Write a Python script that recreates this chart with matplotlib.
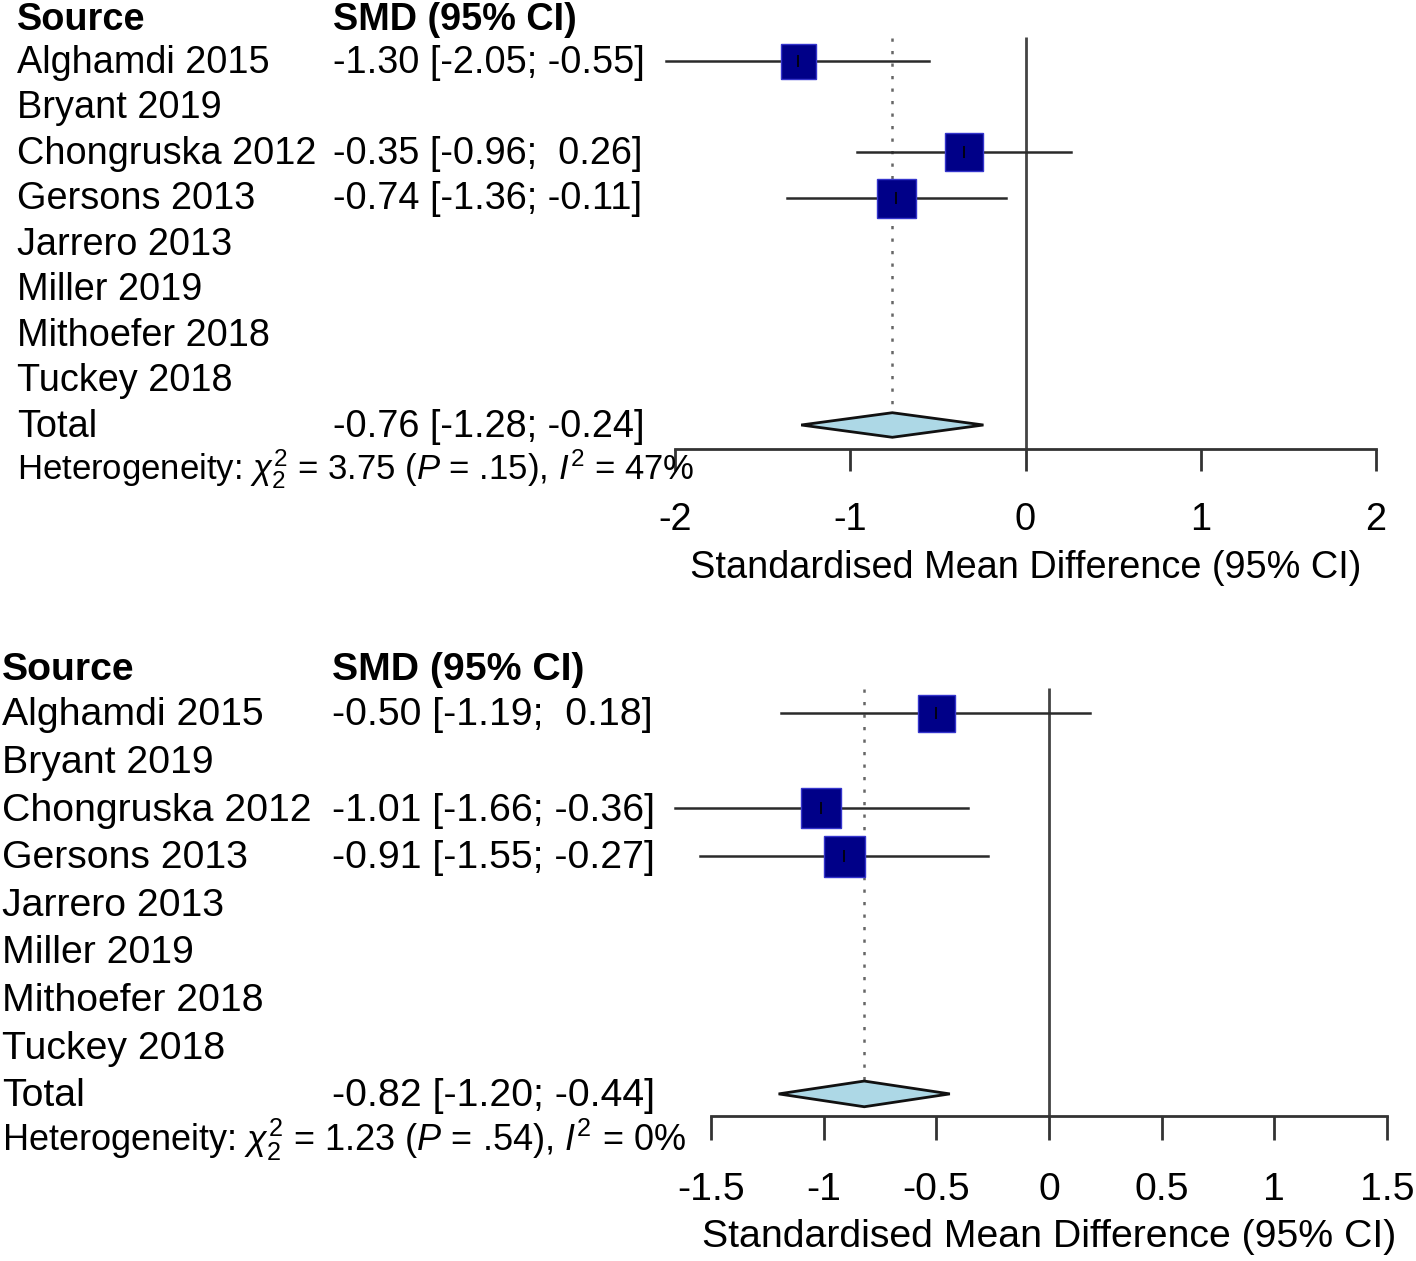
import numpy as np
import matplotlib.pyplot as plt
from matplotlib.patches import Polygon
from matplotlib.transforms import blended_transform_factory

plt.rcParams['font.family'] = 'Liberation Sans'
plt.rcParams['mathtext.fontset'] = 'custom'
plt.rcParams['mathtext.rm'] = 'Liberation Sans'
plt.rcParams['mathtext.it'] = 'Liberation Sans:italic'
plt.rcParams['axes.unicode_minus'] = False

# --- data ---
studies = ['Alghamdi 2015', 'Bryant 2019', 'Chongruska 2012', 'Gersons 2013',
           'Jarrero 2013', 'Miller 2019', 'Mithoefer 2018', 'Tuckey 2018']

# panel A
smd_a = [-1.30, None, -0.35, -0.74, None, None, None, None]
lo_a = [-2.05, None, -0.96, -1.36, None, None, None, None]
hi_a = [-0.55, None, 0.26, -0.11, None, None, None, None]
box_a = [35, None, 38, 39, None, None, None, None]   # square side, px
total_a = [-0.76, -1.28, -0.24]
het_a = r'Heterogeneity: $\chi^2_2$ = 3.75 ($P$ = .15), $I^2$ = 47%'
ticks_a = [-2, -1, 0, 1, 2]
ticklabels_a = ['-2', '-1', '0', '1', '2']

# panel B
smd_b = [-0.50, None, -1.01, -0.91, None, None, None, None]
lo_b = [-1.19, None, -1.66, -1.55, None, None, None, None]
hi_b = [0.18, None, -0.36, -0.27, None, None, None, None]
box_b = [37, None, 40, 41, None, None, None, None]
total_b = [-0.82, -1.20, -0.44]
het_b = r'Heterogeneity: $\chi^2_2$ = 1.23 ($P$ = .54), $I^2$ = 0%'
ticks_b = [-1.5, -1, -0.5, 0, 0.5, 1, 1.5]
ticklabels_b = ['-1.5', '-1', '-0.5', '0', '0.5', '1', '1.5']

xlabel = 'Standardised Mean Difference (95% CI)'

W, H = 1416, 1261
fig = plt.figure(figsize=(W / 100, H / 100), dpi=100)

LINE = '#2a2a2a'


def fmt(m, l, h):
    return f'{m:.2f} [{l:.2f}; {h:5.2f}]'


def forest(px_left, px_right, px_row0, row_h, px_axis, px_top, name_x, col_x,
           fs, het_fs, ticklen, smd, lo, hi, box, total, het, ticks, ticklabels):
    ax = fig.add_axes([px_left / W, 1 - px_axis / H,
                       (px_right - px_left) / W, (px_axis - px_top) / H])
    ybot = (px_axis - px_row0) / row_h
    ytop = (px_top - px_row0) / row_h
    ax.set_ylim(ybot, ytop)
    ax.set_xlim(ticks[0], ticks[-1])
    for s in ['top', 'right', 'left']:
        ax.spines[s].set_visible(False)
    ax.spines['bottom'].set_linewidth(2)
    ax.spines['bottom'].set_color('#333333')
    ax.set_yticks([])
    ax.set_xticks(ticks)
    ax.set_xticklabels(ticklabels)
    ax.tick_params(axis='x', direction='out', length=ticklen, width=2,
                   color='#333333', pad=23, labelsize=fs)
    ax.set_xlabel(xlabel, fontsize=fs, labelpad=8)
    ax.patch.set_visible(False)

    tr = blended_transform_factory(fig.transFigure, ax.transData)
    off = 0.26
    ax.text(name_x / W, 0 + off + 0.05, 'Source', transform=tr, fontsize=fs,
            fontweight='bold', va='baseline', clip_on=False)
    ax.text(col_x / W, 0 + off + 0.05, 'SMD (95% CI)', transform=tr, fontsize=fs,
            fontweight='bold', va='baseline', clip_on=False)

    ntot = len(studies) + 1
    # reference lines
    ax.vlines(0, 0.48, ybot, color='#444444', lw=2, zorder=1)
    ax.vlines(total[0], 0.5, ntot - 0.27, color='#666666', lw=1.8,
              linestyles=(0, (1.3, 3.7)), zorder=1)

    for i, name in enumerate(studies):
        r = i + 1
        ax.text(name_x / W, r + off, name, transform=tr, fontsize=fs,
                va='baseline', clip_on=False)
        if smd[i] is None:
            continue
        ax.text(col_x / W, r + off, fmt(smd[i], lo[i], hi[i]), transform=tr,
                fontsize=fs, va='baseline', clip_on=False)
        ax.plot([lo[i], hi[i]], [r, r], color=LINE, lw=1.8, zorder=2,
                clip_on=False)
        ax.plot(smd[i], r, 's', ms=box[i] * 0.72, mfc='#000088',
                mec='#3535cc', mew=1, zorder=3, clip_on=False)
        ax.plot(smd[i], r, '|', ms=8, color='black', mew=1.2, zorder=4)

    ax.text(name_x / W, ntot + off, 'Total', transform=tr, fontsize=fs,
            va='baseline', clip_on=False)
    ax.text(col_x / W, ntot + off, fmt(*total), transform=tr, fontsize=fs,
            va='baseline', clip_on=False)
    m, l, h = total
    dh = 0.27
    ax.add_patch(Polygon([(l, ntot), (m, ntot - dh), (h, ntot), (m, ntot + dh)],
                         closed=True, facecolor='#ADD8E6', edgecolor='#111111',
                         lw=2, zorder=3, clip_on=False))
    ax.text(name_x / W, ntot + 1.2, het, transform=tr, fontsize=het_fs,
            va='baseline', clip_on=False)
    return ax


forest(675, 1376, 15.5, 45.5, 449, 0, 17, 333, 27.3, 25, 15.5,
       smd_a, lo_a, hi_a, box_a, total_a, het_a, ticks_a, ticklabels_a)
forest(711, 1387, 665.5, 47.6, 1116, 640, 2, 332, 28.3, 26, 17.5,
       smd_b, lo_b, hi_b, box_b, total_b, het_b, ticks_b, ticklabels_b)

fig.savefig('out.png', dpi=100)
